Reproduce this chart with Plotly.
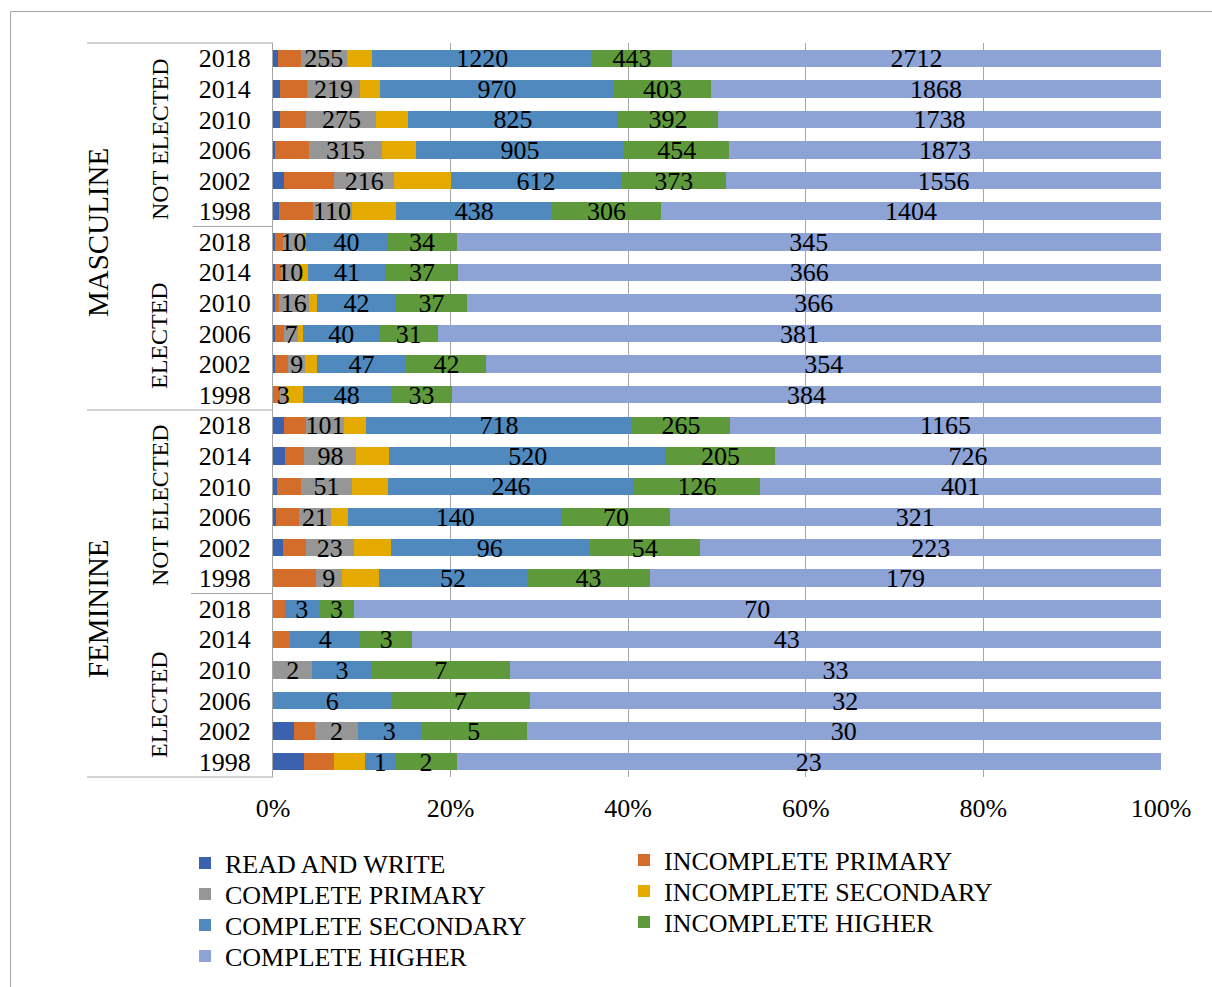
import plotly.graph_objects as go

# Row order, top to bottom: sex / election outcome / year
sexes = ["MASCULINE", "FEMININE"]
outcomes = ["NOT ELECTED", "ELECTED"]
years = ["2018", "2014", "2010", "2006", "2002", "1998"]

# Candidate counts per education level (24 rows, same order as above)
read_write = [27, 29, 27, 9, 39, 17, 1, 1, 1, 1, 1, 0,
              31, 22, 4, 2, 5, 0, 0, 0, 0, 0, 1, 1]
incomplete_primary = [127, 113, 104, 148, 179, 94, 4, 3, 2, 5, 7, 4,
                      59, 37, 24, 15, 11, 15, 1, 1, 0, 0, 1, 1]
complete_primary = [255, 219, 275, 315, 216, 110, 10, 10, 16, 7, 9, 3,
                    101, 98, 51, 21, 23, 9, 0, 0, 2, 0, 2, 0]
incomplete_secondary = [141, 84, 123, 147, 201, 125, 1, 4, 4, 3, 6, 9,
                        61, 62, 36, 11, 18, 13, 0, 0, 0, 0, 0, 1]
complete_secondary = [1220, 970, 825, 905, 612, 438, 40, 41, 42, 40, 47, 48,
                      718, 520, 246, 140, 96, 52, 3, 4, 3, 6, 3, 1]
incomplete_higher = [443, 403, 392, 454, 373, 306, 34, 37, 37, 31, 42, 33,
                     265, 205, 126, 70, 54, 43, 3, 3, 7, 7, 5, 2]
complete_higher = [2712, 1868, 1738, 1873, 1556, 1404, 345, 366, 366, 381, 354, 384,
                   1165, 726, 401, 321, 223, 179, 70, 43, 33, 32, 30, 23]

series = [
    ("READ AND WRITE", read_write, "#3B62AE", False),
    ("INCOMPLETE PRIMARY", incomplete_primary, "#D46D2A", False),
    ("COMPLETE PRIMARY", complete_primary, "#969696", True),
    ("INCOMPLETE SECONDARY", incomplete_secondary, "#E4AA00", False),
    ("COMPLETE SECONDARY", complete_secondary, "#4F89BE", True),
    ("INCOMPLETE HIGHER", incomplete_higher, "#5E9A3C", True),
    ("COMPLETE HIGHER", complete_higher, "#8EA3D5", True),
]

row_keys = [f"{s}|{o}|{y}" for s in sexes for o in outcomes for y in years]
row_years = [y for s in sexes for o in outcomes for y in years]

FONT = "Liberation Serif"
LINE = "#A6A6A6"

# Plot-area geometry in pixels
W, H = 1212, 987
L, R, T, B = 273, 1161, 43, 777
ROW_PX = (B - T) / len(row_keys)


def px_x(px):
    return (px - L) / (R - L)


def px_y(py):
    return (B - py) / (B - T)


# Legend placement: two columns, filled row by row
legend_text_left = [225, 664]
legend_rows_y = [[865, 896, 927, 958], [862, 893, 924]]

fig = go.Figure()
legend_layouts = {}
for i, (name, vals, color, labelled) in enumerate(series):
    col, row = i % 2, i // 2
    lkey = "legend" if i == 0 else f"legend{i + 1}"
    legend_layouts[lkey] = dict(
        x=px_x(legend_text_left[col] - 40), xanchor="left",
        y=px_y(legend_rows_y[col][row] - 2), yanchor="middle",
        bgcolor="rgba(0,0,0,0)", borderwidth=0,
        font=dict(family=FONT, size=26, color="#000000"),
    )
    fig.add_trace(go.Bar(
        name=name, y=row_keys, x=vals, orientation="h",
        marker=dict(color=color, line=dict(width=0)),
        legend=lkey, hoverinfo="name+x",
    ))

# Value labels, drawn above all segments at the middle of each labelled segment
totals = [sum(s[1][k] for s in series) for k in range(len(row_keys))]
lab_x, lab_y, lab_t = [], [], []
for k in range(len(row_keys)):
    start = 0
    for name, vals, color, labelled in series:
        v = vals[k]
        if labelled and v > 0:
            lab_x.append(100.0 * (start + v / 2) / totals[k])
            lab_y.append(row_keys[k])
            lab_t.append(str(v))
        start += v
fig.add_trace(go.Scatter(
    x=lab_x, y=lab_y, text=lab_t, mode="text", textposition="middle center",
    textfont=dict(family=FONT, size=26, color="#000000"),
    showlegend=False, hoverinfo="skip", cliponaxis=False, yaxis="y2",
))

# Hierarchical category labels on the left
annotations = [
    dict(text="MASCULINE", x=px_x(98), y=px_y(233), size=29),
    dict(text="FEMININE", x=px_x(98), y=px_y(609), size=29),
    dict(text="NOT ELECTED", x=px_x(160), y=px_y(139), size=24),
    dict(text="ELECTED", x=px_x(159), y=px_y(336), size=24),
    dict(text="NOT ELECTED", x=px_x(160), y=px_y(505), size=24),
    dict(text="ELECTED", x=px_x(159), y=px_y(705), size=24),
]
ann = [dict(text=a["text"], x=a["x"], y=a["y"], xref="paper", yref="paper",
            xanchor="center", yanchor="middle", textangle=-90, showarrow=False,
            font=dict(family=FONT, size=a["size"], color="#000000"))
       for a in annotations]

# Group separator lines and chart border
def hline(x0, x1, y):
    return dict(type="line", xref="paper", yref="paper",
                x0=px_x(x0), x1=px_x(x1), y0=px_y(y), y1=px_y(y),
                line=dict(color=LINE, width=1))

shapes = [
    hline(87, L, 43),
    hline(193, L, 226.5),
    hline(87, L, 410),
    hline(191, L, 593.5),
    hline(87, L, 777),
    dict(type="rect", xref="paper", yref="paper",
         x0=px_x(10.5), x1=px_x(1230), y0=px_y(11.5), y1=px_y(1000),
         line=dict(color=LINE, width=1), fillcolor="rgba(0,0,0,0)", layer="below"),
]

# Labels sit a little below the bar centre line
label_drop = 2.5 / ROW_PX

fig.update_layout(
    width=W, height=H,
    margin=dict(l=L, r=W - R, t=T, b=H - B, pad=0, autoexpand=False),
    paper_bgcolor="#FFFFFF", plot_bgcolor="#FFFFFF",
    barmode="stack", barnorm="percent", bargap=0.43,
    font=dict(family=FONT, size=26, color="#000000"),
    showlegend=True,
    annotations=ann, shapes=shapes,
    yaxis2=dict(
        overlaying="y", type="category", categoryorder="array",
        categoryarray=row_keys, autorange=False,
        range=[len(row_keys) - 0.5 - label_drop, -0.5 - label_drop],
        visible=False, showgrid=False, zeroline=False,
    ),
    **legend_layouts,
)
fig.update_xaxes(
    range=[0, 100], tickmode="linear", tick0=0, dtick=20, ticksuffix="%",
    showgrid=True, gridcolor=LINE, gridwidth=1, zeroline=False, showline=False,
    ticks="", ticklabelstandoff=13, automargin=False,
    tickfont=dict(family=FONT, size=26, color="#000000"),
)
fig.update_yaxes(
    selector=dict(anchor="x"), overwrite=False,
)
fig.layout.yaxis.update(
    type="category", categoryorder="array", categoryarray=row_keys,
    tickmode="array", tickvals=row_keys, ticktext=row_years,
    range=[len(row_keys) - 0.5, -0.5], autorange=False,
    showgrid=False, zeroline=False, automargin=False,
    showline=True, linecolor=LINE, linewidth=1,
    ticks="", ticklabelstandoff=16,
    tickfont=dict(family=FONT, size=26, color="#000000"),
)

fig.write_html("out.html")
